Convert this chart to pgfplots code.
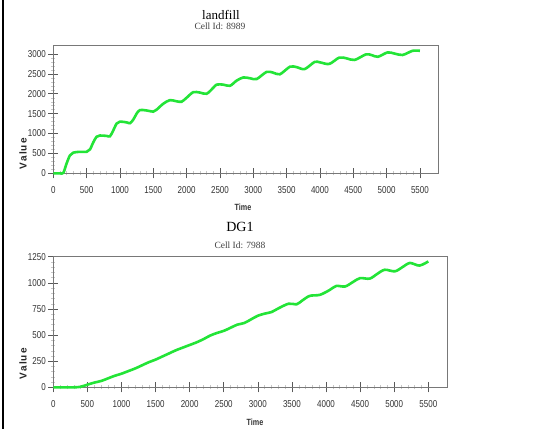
\documentclass[border=0pt]{standalone}
\usepackage{fontspec}
\setmainfont{Liberation Sans}
\newfontfamily\seriffont{Liberation Serif}
\usepackage{graphicx}
\usepackage{pgfplots}
\pgfplotsset{compat=1.18}
\definecolor{lg}{RGB}{35,228,55}
\definecolor{axc}{RGB}{120,120,120}
\pgfplotsset{
  myax/.style={
    scale only axis, anchor=south west,
    axis line style={axc, line width=0.9pt},
    xmin=0, ymin=0,
    xtick={0,500,...,5500},
    xtick pos=bottom, ytick pos=left,
    minor x tick num=4, minor y tick num=4,
    tick align=center,
    major tick style={black!65, line width=0.6pt},
    minor tick style={black!22, line width=0.4pt},
    major tick length=10pt, minor tick length=4pt,
    /pgf/number format/1000 sep={},
    /pgf/number format/assume math mode=true,
    xticklabel={\scalebox{0.8}[1]{\pgfmathprintnumber{\tick}}},
    yticklabel={\scalebox{0.8}[1]{\pgfmathprintnumber{\tick}}},
    tick label style={font=\fontsize{10}{10}\selectfont, black!80},
    xticklabel style={yshift=-5pt},
    yticklabel style={xshift=1pt},
    clip=false,
  }
}
\begin{document}
\begin{tikzpicture}[x=1pt,y=1pt]
\useasboundingbox (0pt,0pt) rectangle (558pt,429pt);
\fill[white] (0pt,0pt) rectangle (558pt,429pt);
\draw[black, line width=2.6pt] (3pt,0pt) -- (3pt,429pt);
% titles
\node[font=\seriffont\fontsize{13}{13}\selectfont] at (221pt,414pt) {landfill};
\node[font=\seriffont\fontsize{9.5}{9.5}\selectfont, text=black!75] at (220pt,403pt) {Cell Id: 8989};
\node[font=\seriffont\fontsize{14}{14}\selectfont] at (240pt,202pt) {DG1};
\node[font=\seriffont\fontsize{9.5}{9.5}\selectfont, text=black!75] at (240pt,184pt) {Cell Id: 7988};
% axis labels
\node[font=\bfseries\fontsize{9}{9}\selectfont, text=black!80] at (243pt,222pt) {\scalebox{0.8}[1]{Time}};
\node[font=\bfseries\fontsize{9}{9}\selectfont, text=black!80] at (255pt,7pt) {\scalebox{0.8}[1]{Time}};
\node[font=\fontsize{10}{10}\selectfont, text=black!85, rotate=90] at (23pt,276pt) {\addfontfeature{LetterSpace=12}\textbf{Value}};
\node[font=\fontsize{10}{10}\selectfont, text=black!85, rotate=90] at (23pt,66pt) {\addfontfeature{LetterSpace=12}\textbf{Value}};

\begin{axis}[myax, at={(53.3pt,255.7pt)}, width=384.7pt, height=128.3pt,
  xmax=5771, ymax=3226, ytick={0,500,...,3000}]
\addplot[lg, line width=2.6pt, smooth, tension=0.5] coordinates {
(0,0)(100,0)(150,10)(200,250)(250,450)(300,520)(400,540)(500,540)(550,600)(600,780)(650,920)(700,950)(800,940)(850,930)(900,1080)(950,1250)(1000,1300)(1100,1280)(1150,1260)(1200,1350)(1250,1500)(1300,1590)(1400,1580)(1500,1550)(1550,1600)(1650,1750)(1750,1840)(1850,1810)(1925,1800)(2000,1900)(2100,2040)(2200,2030)(2300,2000)(2400,2150)(2450,2230)(2550,2230)(2650,2200)(2750,2330)(2850,2410)(2950,2390)(3050,2370)(3200,2550)(3300,2530)(3400,2490)(3550,2680)(3650,2670)(3770,2620)(3920,2800)(4000,2790)(4140,2750)(4290,2910)(4400,2890)(4520,2850)(4690,2990)(4780,2970)(4870,2930)(5015,3040)(5120,3010)(5240,2975)(5390,3080)(5500,3080)
};
\end{axis}

\begin{axis}[myax, at={(53.3pt,41.7pt)}, width=393.7pt, height=130.6pt,
  xmax=5774, ymax=1250, ytick={0,250,...,1250}]
\addplot[lg, line width=2.6pt, smooth, tension=0.5] coordinates {
(0,0)(300,0)(400,5)(500,25)(600,45)(700,60)(800,85)(900,110)(1000,130)(1100,155)(1200,180)(1300,210)(1400,240)(1500,265)(1600,295)(1700,325)(1800,355)(1900,380)(2000,405)(2100,430)(2200,460)(2300,495)(2400,520)(2500,540)(2600,570)(2700,600)(2800,615)(2900,650)(3000,685)(3100,705)(3200,720)(3300,755)(3450,800)(3570,795)(3650,830)(3760,875)(3910,885)(4050,930)(4150,970)(4280,965)(4400,1010)(4500,1045)(4640,1040)(4750,1085)(4860,1125)(5010,1110)(5120,1150)(5230,1190)(5370,1165)(5500,1205)
};
\end{axis}
\end{tikzpicture}
\end{document}
